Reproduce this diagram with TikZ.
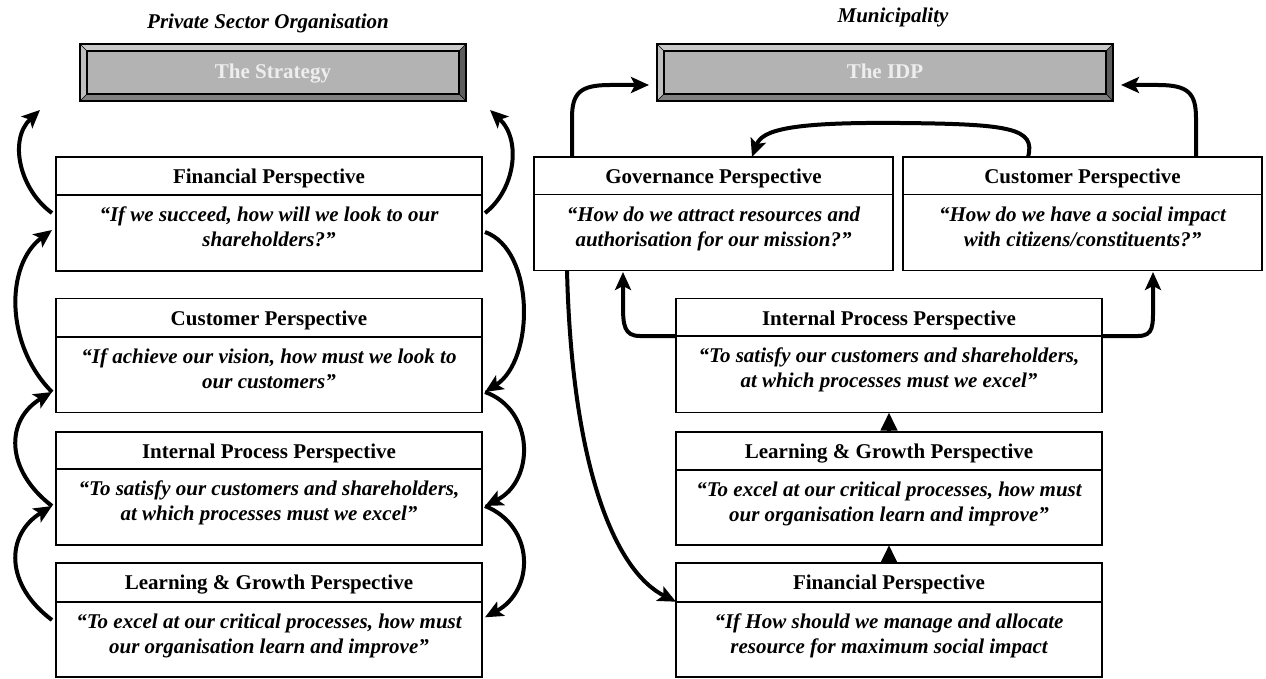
\documentclass[tikz,border=0pt]{standalone}
\usepackage{fontspec}
\setmainfont{Liberation Serif}
\usetikzlibrary{arrows.meta,calc}

\definecolor{faceGray}{HTML}{B3B3B3}
\definecolor{bevTop}{HTML}{CACACA}
\definecolor{bevLeft}{HTML}{BEBEBE}
\definecolor{bevBottom}{HTML}{808080}
\definecolor{bevRight}{HTML}{5C5C5C}
\definecolor{plateText}{HTML}{EEEEEE}

\tikzset{
  boxframe/.style={draw, line width=1.8pt, rectangle, inner sep=0pt, outer sep=0pt, fill=white},
  boxline/.style={line width=1.8pt},
  titletext/.style={inner sep=0pt, font=\bfseries\fontsize{21}{25}\selectfont},
  bodytext/.style={inner sep=0pt, align=center, font=\bfseries\itshape\fontsize{21}{25}\selectfont},
  headtext/.style={inner sep=0pt, font=\bfseries\itshape\fontsize{21}{25}\selectfont},
  platetext/.style={inner sep=0pt, text=plateText, font=\bfseries\fontsize{21}{25}\selectfont},
  flow/.style={line width=4pt, -{Stealth[length=18pt,width=16pt,inset=4pt]}},
  upflow/.style={line width=4pt, -{Triangle[length=18pt,width=16pt]}},
}

% perspective box: name, left, top, divider, bottom, right, title, question
\newcommand\perspbox[8]{%
  \node[boxframe, minimum width={#6-#2}, minimum height={#5-#3}, anchor=north west] (#1) at (#2,#3) {};
  \draw[boxline] (#2,#4) -- (#6,#4);
  \node[titletext, anchor=base] (#1-t) at ({(#2+#6)/2},{#3+26.5}) {#7};
  \node[bodytext, anchor=north] (#1-b) at ({(#2+#6)/2},{#4+11.5}) {\rule{0pt}{15pt}#8};
}

% bevelled grey plate: name, left, top, right, bottom, text
\newcommand\plate[6]{%
  \fill[faceGray] (#2,#3) rectangle (#4,#5);
  \fill[bevTop] (#2,#3) -- (#4,#3) -- ({#4-7},{#3+7}) -- ({#2+7},{#3+7}) -- cycle;
  \fill[bevLeft] (#2,#3) -- ({#2+7},{#3+7}) -- ({#2+7},{#5-7}) -- (#2,#5) -- cycle;
  \fill[bevBottom] (#2,#5) -- ({#2+7},{#5-7}) -- ({#4-7},{#5-7}) -- (#4,#5) -- cycle;
  \fill[bevRight] (#4,#3) -- ({#4-7},{#3+7}) -- ({#4-7},{#5-7}) -- (#4,#5) -- cycle;
  \draw[line width=0.6pt] (#2,#3) -- ({#2+7},{#3+7}) (#4,#3) -- ({#4-7},{#3+7})
        (#2,#5) -- ({#2+7},{#5-7}) (#4,#5) -- ({#4-7},{#5-7});
  \draw[line width=1.5pt] ({#2+7},{#3+7}) rectangle ({#4-7},{#5-7});
  \node[draw, line width=2pt, inner sep=0pt, outer sep=0pt, minimum width={#4-#2}, minimum height={#5-#3}, anchor=north west] (#1) at (#2,#3) {};
  \node[platetext, anchor=base] (#1-txt) at ({(#2+#4)/2},{#3+35}) {#6};
}

\begin{document}
\begin{tikzpicture}[x=1pt, y=-1pt]
\useasboundingbox (0,0) rectangle (1266,679);

% ---------- private sector organisation ----------
\node[headtext, anchor=base] (hdL) at (268,29) {Private Sector Organisation};
\plate{strat}{80}{44}{466}{101}{The Strategy}

\perspbox{lfin}{56}{157}{195}{271}{482}{Financial Perspective}
  {“If we succeed, how will we look to our\\shareholders?”}
\perspbox{lcus}{56}{298.5}{336.7}{412.5}{482}{Customer Perspective}
  {“If achieve our vision, how must we look to\\our customers”}
\perspbox{lint}{56}{431.7}{469}{545}{482}{Internal Process Perspective}
  {“To satisfy our customers and shareholders,\\at which processes must we excel”}
\perspbox{llg}{56}{563.3}{601.7}{677}{482}{Learning \& Growth Perspective}
  {“To excel at our critical processes, how must\\our organisation learn and improve”}

% junction points on the box sides
\coordinate (aTip) at (40,110);
\coordinate (eTip) at (490,110);
\coordinate (finW) at ($(lfin.north west)+(-4,56)$);
\coordinate (finWin) at ($(lfin.north west)+(-4,73)$);
\coordinate (cusW) at ($(lcus.north west)+(-4,93.5)$);
\coordinate (intW) at ($(lint.north west)+(-4,74.3)$);
\coordinate (lgW) at ($(llg.north west)+(-4,56.7)$);
\coordinate (finE) at ($(lfin.north east)+(3,56)$);
\coordinate (finEout) at ($(lfin.north east)+(3,75)$);
\coordinate (cusE) at ($(lcus.north east)+(3,93.5)$);
\coordinate (intE) at ($(lint.north east)+(3,74.3)$);
\coordinate (lgE) at ($(llg.north east)+(3,54)$);

% climbing arrows on the left
\draw[flow] (finW) .. controls +(-32,-23) and +(-32,30) .. (aTip);
\draw[flow] (cusW) .. controls +(-47,-47) and +(-47,35) .. (finWin);
\draw[flow] (intW) .. controls +(-47,-36) and +(-47,28) .. (cusW);
\draw[flow] (lgW) .. controls +(-47,-35) and +(-47,29) .. (intW);
% cascading arrows on the right
\draw[flow] (finE) .. controls +(30,-23) and +(32,30) .. (eTip);
\draw[flow] (finEout) .. controls +(50,18) and +(50,-32) .. (cusE);
\draw[flow] (cusE) .. controls +(50,18) and +(50,-25) .. (intE);
\draw[flow] (intE) .. controls +(50,20) and +(50,-27) .. (lgE);

% ---------- municipality ----------
\node[headtext, anchor=base] (hdR) at (893,23) {Municipality};
\plate{idp}{657}{44}{1113}{101}{The IDP}

\perspbox{gov}{534}{157}{194.5}{270.5}{893}{Governance Perspective}
  {“How do we attract resources and\\authorisation for our mission?”}
\perspbox{rcus}{903}{157}{194.5}{270.5}{1262}{Customer Perspective}
  {“How do we have a social impact\\with citizens/constituents?”}
\perspbox{rint}{676}{298.5}{336}{412.5}{1102}{Internal Process Perspective}
  {“To satisfy our customers and shareholders,\\at which processes must we excel”}
\perspbox{rlg}{676}{431.7}{470}{545}{1102}{Learning \& Growth Perspective}
  {“To excel at our critical processes, how must\\our organisation learn and improve”}
\perspbox{rfin}{676}{563.3}{601.7}{677.3}{1102}{Financial Perspective}
  {“If How should we manage and allocate\\resource for maximum social impact}

% governance and customer feed the IDP
\draw[flow] ($(gov.north west)+(38,0)$) -- ++(0,-39)
  .. controls +(0,-25) and +(-30,0) .. ++(38,-33) -- ($(idp.south west)+(-8,-16)$);
\draw[flow] ($(rcus.north east)+(-66,0)$) -- ++(0,-39)
  .. controls +(0,-25) and +(30,0) .. ++(-38,-33) -- ($(idp.south east)+(8,-16)$);
% customer back to governance
\draw[flow] ($(rcus.north west)+(125,0)$) .. controls +(8,-29) and +(110,1) .. ++(-128,-34)
  .. controls +(-110,-1) and +(10,-27) .. ($(gov.north west)+(218,0)$);
% internal process up to governance and customer
\draw[flow] ($(rint.north west)+(0,37.5)$) -- ++(-36,0)
  .. controls +(-16,0) and +(0,20) .. ++(-17,-31) -- ($(gov.south west)+(89,1.5)$);
\draw[flow] ($(rint.north east)+(0,37.5)$) -- ++(36,0)
  .. controls +(16,0) and +(0,20) .. ++(15,-31) -- ($(rcus.south east)+(-109,1.5)$);
% governance down to financial
\draw[flow] ($(gov.south west)+(33,0)$) .. controls +(5,200) and +(-60,-30) .. ($(rfin.north west)+(0,38.4)$);
% stacked short arrows
\draw[upflow] (rfin.north) -- (rlg.south);
\draw[upflow] (rlg.north) -- (rint.south);
\end{tikzpicture}
\end{document}
